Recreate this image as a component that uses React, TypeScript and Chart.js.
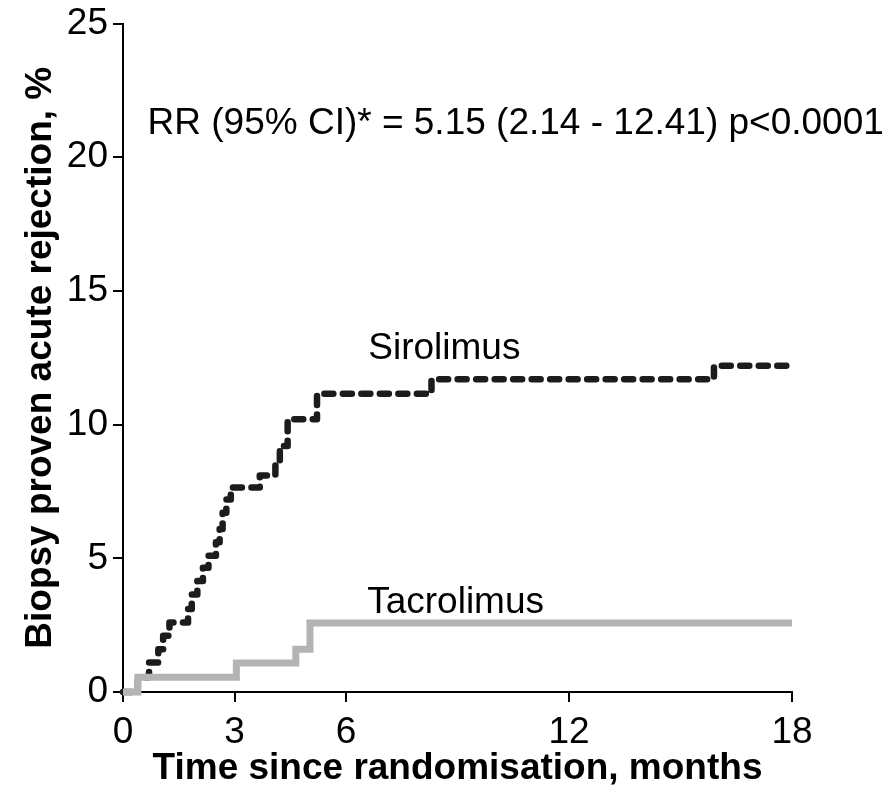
import React, { useEffect, useRef } from "react";
import { Chart, registerables } from "chart.js";

Chart.register(...registerables);

// ---- data ----
const xTickValues = [0, 3, 6, 12, 18];
const yTickStep = 5;

const sirolimusMonths = [0, 0.4, 0.7, 0.95, 1.08, 1.25, 1.75, 1.85, 2.0, 2.15, 2.3, 2.5, 2.6, 2.68, 2.78, 2.9, 3.68, 4.1, 4.22, 4.43, 5.22, 8.3, 15.9, 18];
const sirolimusPct = [0, 0.55, 1.1, 1.6, 2.1, 2.6, 3.1, 3.65, 4.15, 4.65, 5.1, 5.6, 6.1, 6.7, 7.2, 7.65, 8.1, 8.6, 9.2, 10.2, 11.15, 11.7, 12.2, 12.2];

const tacrolimusMonths = [0, 0.4, 3.05, 4.65, 5.03, 18];
const tacrolimusPct = [0, 0.55, 1.08, 1.6, 2.58, 2.58];

const xTitle = "Time since randomisation, months";
const yTitle = "Biopsy proven acute rejection, %";
const rrText = "RR (95% CI)* = 5.15 (2.14 - 12.41) p<0.0001";

// annotation anchors in data coordinates [month, %]
const annotations = [
  { text: rrText, x: 0.66, y: 20.85 },
  { text: "Sirolimus", x: 6.6, y: 12.45 },
  { text: "Tacrolimus", x: 6.57, y: 2.95 },
];

const FONT = "'Liberation Sans', Arial, Helvetica, sans-serif";

const textPlugin = {
  id: "annotText",
  afterDatasetsDraw(chart: any) {
    const { ctx, scales } = chart;
    ctx.save();
    ctx.fillStyle = "#000";
    ctx.font = `37px ${FONT}`;
    ctx.textAlign = "left";
    ctx.textBaseline = "alphabetic";
    for (const a of annotations) {
      ctx.fillText(a.text, scales.x.getPixelForValue(a.x), scales.y.getPixelForValue(a.y));
    }
    ctx.restore();
  },
};

export default function App() {
  const ref = useRef<HTMLCanvasElement | null>(null);

  useEffect(() => {
    if (!ref.current) return;
    const chart = new Chart(ref.current, {
      type: "line",
      data: {
        datasets: [
          {
            label: "Tacrolimus",
            data: tacrolimusMonths.map((m, i) => ({ x: m, y: tacrolimusPct[i] })),
            borderColor: "#b4b4b4",
            borderWidth: 7,
            stepped: true,
            pointRadius: 0,
            fill: false,
            clip: false as any,
            borderJoinStyle: "miter",
            order: 0,
          },
          {
            label: "Sirolimus",
            data: sirolimusMonths.map((m, i) => ({ x: m, y: sirolimusPct[i] })),
            borderColor: "#1c1c1c",
            borderWidth: 6.5,
            borderDash: [9, 9.5],
            borderCapStyle: "round",
            borderJoinStyle: "round",
            stepped: true,
            pointRadius: 0,
            fill: false,
            clip: false as any,
            order: 1,
          },
        ],
      },
      options: {
        responsive: false,
        animation: false,
        layout: { padding: { top: 21, right: 102, bottom: 0, left: 0 } },
        plugins: {
          legend: { display: false },
          tooltip: { enabled: false },
        },
        scales: {
          x: {
            type: "linear",
            min: 0,
            max: 18,
            afterBuildTicks: (s: any) => {
              s.ticks = xTickValues.map((v) => ({ value: v }));
            },
            afterFit: (s: any) => {
              s.height = 99;
            },
            border: { display: true, color: "#000", width: 2 },
            grid: { display: true, drawOnChartArea: false, drawTicks: true, tickLength: 10, color: "#000", lineWidth: 2 },
            ticks: {
              color: "#000",
              font: { family: FONT, size: 37, lineHeight: 1 },
              padding: 12,
              maxRotation: 0,
              autoSkip: false,
            },
            title: {
              display: true,
              text: xTitle,
              color: "#000",
              font: { family: FONT, size: 37, weight: "bold", lineHeight: 1.2 },
              padding: { top: 0, bottom: 0 },
            },
          },
          y: {
            type: "linear",
            min: 0,
            max: 25,
            afterFit: (s: any) => {
              s.width = 123;
            },
            border: { display: true, color: "#000", width: 2 },
            grid: { display: true, drawOnChartArea: false, drawTicks: true, tickLength: 10, color: "#000", lineWidth: 2 },
            ticks: {
              stepSize: yTickStep,
              color: "#000",
              font: { family: FONT, size: 37, lineHeight: 1 },
              padding: 5,
            },
            title: {
              display: true,
              text: yTitle,
              color: "#000",
              font: { family: FONT, size: 37, weight: "bold", lineHeight: 1.2 },
              padding: { top: 19, bottom: 0 },
            },
          },
        },
      },
      plugins: [textPlugin],
    } as any);
    return () => chart.destroy();
  }, []);

  return (
    <div style={{ position: "fixed", left: 0, top: 0, width: 894, height: 791, background: "#fff" }}>
      <canvas ref={ref} width={894} height={791} style={{ width: 894, height: 791 }} />
    </div>
  );
}
